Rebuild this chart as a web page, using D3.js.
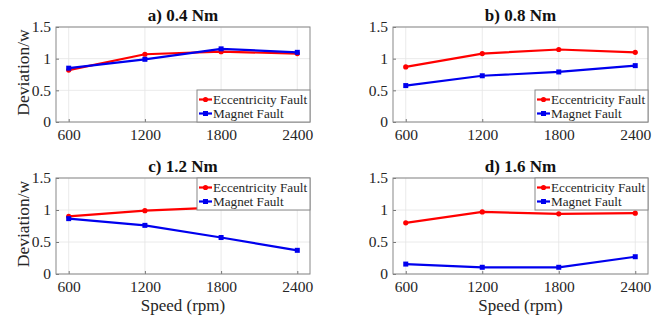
<!DOCTYPE html>
<html>
<head>
<meta charset="utf-8">
<script src="https://cdn.jsdelivr.net/npm/d3@7"></script>
<style>
  body { margin: 0; background: #fff; }
</style>
</head>
<body>
<svg id="chart" width="668" height="320" font-family="Liberation Serif"></svg>
<script>
// data
const speeds = [600, 1200, 1800, 2400];
const titles = ["a) 0.4 Nm", "b) 0.8 Nm", "c) 1.2 Nm", "d) 1.6 Nm"];
const eccentricity = [
  [0.82, 1.07, 1.11, 1.08],
  [0.87, 1.08, 1.145, 1.10],
  [0.90, 0.99, 1.04, 1.06],
  [0.80, 0.97, 0.94, 0.95]
];
const magnet = [
  [0.85, 0.99, 1.155, 1.10],
  [0.575, 0.73, 0.79, 0.89],
  [0.865, 0.76, 0.57, 0.37],
  [0.155, 0.105, 0.105, 0.27]
];
const yTicks = [0, 0.5, 1, 1.5];
const legendPos = ["se", "se", "ne", "ne"];

const serif = "'Liberation Serif', 'Times New Roman', serif";
const svg = d3.select("#chart");

// plot boxes: [left, top, right, bottom]
const boxes = [
  [56, 27, 310, 122],
  [393, 27, 648, 122],
  [56, 178, 310, 274],
  [393, 178, 648, 274]
];

const series = [
  { name: "Eccentricity Fault", color: "#ff0000", vals: eccentricity, marker: "circle" },
  { name: "Magnet Fault", color: "#0000ee", vals: magnet, marker: "square" }
];

boxes.forEach((b, i) => {
  const [x0, y0, x1, y1] = b;
  const x = d3.scaleLinear().domain([500, 2500]).range([x0, x1]);
  const y = d3.scaleLinear().domain([0, 1.5]).range([y1, y0]);
  const g = svg.append("g");

  // grid
  g.selectAll("line.gx").data(speeds).join("line")
    .attr("x1", d => x(d)).attr("x2", d => x(d))
    .attr("y1", y0).attr("y2", y1)
    .attr("stroke", "#e4e4e4").attr("stroke-width", 0.8);
  g.selectAll("line.gy").data(yTicks).join("line")
    .attr("x1", x0).attr("x2", x1)
    .attr("y1", d => y(d)).attr("y2", d => y(d))
    .attr("stroke", "#e4e4e4").attr("stroke-width", 0.8);

  // axes
  const xa = g.append("g").attr("transform", `translate(0,${y1})`)
    .call(d3.axisBottom(x).tickValues(speeds).tickFormat(d3.format("d"))
      .tickSizeInner(-3).tickSizeOuter(0).tickPadding(7));
  const ya = g.append("g").attr("transform", `translate(${x0},0)`)
    .call(d3.axisLeft(y).tickValues(yTicks).tickFormat(d => String(d))
      .tickSizeInner(-3).tickSizeOuter(0).tickPadding(5));
  [xa, ya].forEach(a => {
    a.attr("font-family", serif).attr("font-size", 15);
    a.select(".domain").remove();
    a.selectAll(".tick line").attr("stroke", "#777");
    a.selectAll("text").attr("fill", "#262626").style("font-family", serif).style("font-size", "15.5px");
  });

  g.append("rect")
    .attr("x", x0).attr("y", y0).attr("width", x1 - x0).attr("height", y1 - y0)
    .attr("fill", "none").attr("stroke", "#888").attr("stroke-width", 1);

  // lines and markers
  series.forEach(s => {
    const pts = speeds.map((sp, k) => [sp, s.vals[i][k]]);
    g.append("path")
      .attr("d", d3.line().x(d => x(d[0])).y(d => y(d[1]))(pts))
      .attr("fill", "none").attr("stroke", s.color).attr("stroke-width", 2.2);
    if (s.marker === "circle") {
      g.selectAll(null).data(pts).join("circle")
        .attr("cx", d => x(d[0])).attr("cy", d => y(d[1])).attr("r", 2.6)
        .attr("fill", s.color);
    } else {
      g.selectAll(null).data(pts).join("rect")
        .attr("x", d => x(d[0]) - 2.5).attr("y", d => y(d[1]) - 2.5)
        .attr("width", 5).attr("height", 5).attr("fill", s.color);
    }
  });

  // legend
  const lw = 113, lh = 32;
  const lx = x1 - lw;
  const ly = legendPos[i] === "se" ? y1 - lh : y0;
  const lg = g.append("g").attr("transform", `translate(${lx},${ly})`);
  lg.append("rect").attr("width", lw).attr("height", lh)
    .attr("fill", "#fff").attr("stroke", "#888").attr("stroke-width", 1);
  series.forEach((s, k) => {
    const cy = 9.5 + k * 14;
    lg.append("line").attr("x1", 2).attr("x2", 15).attr("y1", cy).attr("y2", cy)
      .attr("stroke", s.color).attr("stroke-width", 2.2);
    if (s.marker === "circle") {
      lg.append("circle").attr("cx", 8.5).attr("cy", cy).attr("r", 2.6).attr("fill", s.color);
    } else {
      lg.append("rect").attr("x", 6).attr("y", cy - 2.5).attr("width", 5).attr("height", 5).attr("fill", s.color);
    }
    lg.append("text").attr("x", 16).attr("y", cy + 4.5)
      .attr("fill", "#262626").style("font-family", serif).style("font-size", "13.2px").text(s.name);
  });

  // title
  g.append("text")
    .attr("x", (x0 + x1) / 2).attr("y", y0 - 6)
    .attr("text-anchor", "middle").attr("font-weight", "bold")
    .attr("fill", "#111").style("font-family", serif).style("font-size", "17px").text(titles[i]);

  // y label on left column
  if (i % 2 === 0) {
    g.append("text")
      .attr("transform", `translate(${x0 - 27},${(y0 + y1) / 2 - 2}) rotate(-90)`)
      .attr("text-anchor", "middle").attr("fill", "#262626")
      .style("font-family", serif).style("font-size", "17.5px").text("Deviation/w");
  }
  // x label on bottom row
  if (i >= 2) {
    g.append("text")
      .attr("x", (x0 + x1) / 2).attr("y", y1 + 37)
      .attr("text-anchor", "middle").attr("fill", "#262626")
      .style("font-family", serif).style("font-size", "17px").text("Speed (rpm)");
  }
});
</script>
</body>
</html>
